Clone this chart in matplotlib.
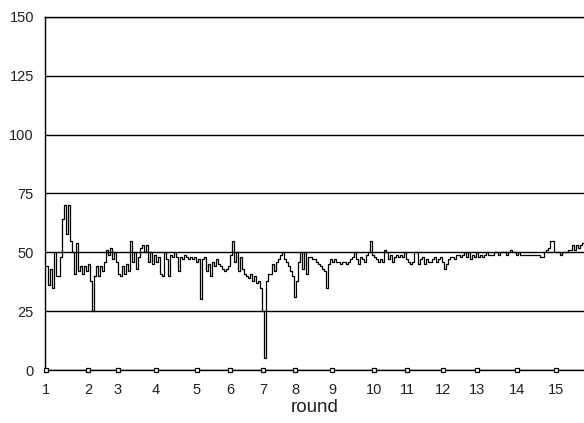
import matplotlib
matplotlib.use("Agg")
import matplotlib.pyplot as plt
import numpy as np

plt.rcParams['font.family'] = ['Liberation Sans', 'DejaVu Sans']

# value per time step (one step = 2 px in the original)
values = [
    44, 36, 43, 35, 50, 40, 40, 48, 64, 70, 58, 70, 55, 50, 41, 54, 42, 44, 41, 44,
    42, 45, 38, 25, 40, 44, 40, 44, 42, 46, 51, 49, 52, 47, 50, 46, 41, 40, 44, 41,
    45, 42, 55, 46, 50, 43, 48, 52, 53, 50, 53, 46, 50, 45, 49, 46, 48, 41, 40, 50,
    47, 40, 49, 48, 50, 48, 42, 48, 47, 49, 48, 47, 48, 47, 48, 46, 47, 30, 47, 48,
    42, 45, 40, 46, 44, 47, 45, 44, 43, 42, 43, 44, 49, 55, 46, 50, 42, 48, 43, 41,
    40, 39, 41, 38, 40, 37, 38, 35, 25, 5, 38, 41, 41, 45, 42, 46, 47, 49, 50, 47,
    46, 44, 42, 40, 31, 38, 46, 50, 43, 50, 41, 48, 48, 47, 47, 46, 45, 44, 43, 42,
    35, 45, 47, 46, 47, 46, 46, 45, 46, 46, 45, 46, 47, 48, 50, 47, 45, 48, 47, 46,
    49, 50, 55, 49, 48, 47, 46, 47, 46, 51, 50, 47, 49, 46, 48, 49, 48, 49, 48, 50,
    47, 46, 45, 46, 50, 50, 45, 47, 48, 45, 47, 46, 46, 47, 48, 46, 47, 48, 46, 43,
    45, 47, 48, 48, 47, 49, 49, 48, 49, 50, 48, 50, 47, 49, 48, 50, 48, 49, 48, 49,
    50, 49, 49, 49, 50, 50, 49, 50, 50, 50, 49, 50, 51, 50, 50, 49, 50, 49, 49, 49,
    49, 49, 49, 49, 49, 49, 49, 48, 48, 50, 51, 52, 55, 55, 50, 50, 50, 49, 50, 50,
    50, 51, 51, 53, 51, 53, 52, 53, 54, 54,
]

# time step at which each round starts
round_starts = [0, 21, 36, 55, 75.5, 92, 108.5, 124.5, 143, 164, 180.5, 198.5, 215.5, 235.5, 255]
round_labels = [str(r) for r in range(1, 16)]
y_ticks = [0, 25, 50, 75, 100, 125, 150]

fig = plt.figure(figsize=(5.84, 4.23), dpi=100)
ax = fig.add_axes([45 / 584, 53 / 423, 539 / 584, 353 / 423])

steps = np.arange(len(values))
ax.plot(steps, values, color='black', lw=0.9, drawstyle='steps-post', zorder=3)

ax.set_xlim(-0.5, len(values) - 1)
ax.set_ylim(0, 150)

ax.set_yticks(y_ticks)
ax.set_yticklabels([str(v) for v in y_ticks])
ax.yaxis.grid(True, color='black', lw=1.0)
ax.set_axisbelow(True)

ax.set_xticks(round_starts)
ax.set_xticklabels(round_labels)
ax.plot(round_starts, np.zeros(len(round_starts)), 's', ms=3.2, mfc='white',
        mec='black', mew=0.9, clip_on=False, zorder=4)

ax.tick_params(axis='both', length=0, labelsize=10.5, labelcolor='#222222')
ax.tick_params(axis='y', pad=8)
ax.tick_params(axis='x', pad=9)
ax.set_xlabel('round', fontsize=13.5, color='#222222', labelpad=2)

for s in ['right']:
    ax.spines[s].set_visible(False)
for s in ['left', 'bottom', 'top']:
    ax.spines[s].set_color('black')
    ax.spines[s].set_linewidth(1.0)

fig.savefig('out.png', dpi=100)
